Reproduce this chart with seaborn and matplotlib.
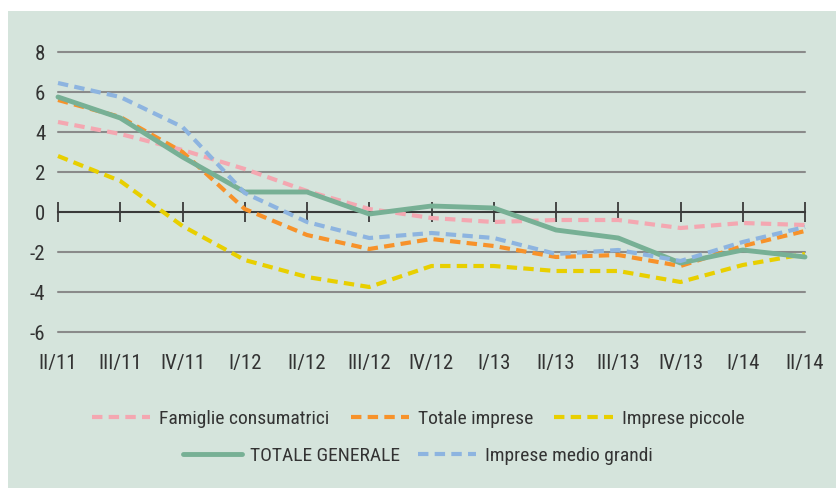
import matplotlib
matplotlib.use("Agg")
import matplotlib.pyplot as plt
import seaborn as sns
import pandas as pd
from matplotlib.patches import Rectangle
from matplotlib.lines import Line2D

quarters = ["II/11", "III/11", "IV/11", "I/12", "II/12", "III/12", "IV/12",
            "I/13", "II/13", "III/13", "IV/13", "I/14", "II/14"]
famiglie = [4.5, 3.9, 3.1, 2.15, 1.05, 0.15, -0.3, -0.5, -0.4, -0.4, -0.8, -0.55, -0.65]
totale_imprese = [5.6, 4.75, 3.0, 0.15, -1.15, -1.85, -1.35, -1.7, -2.25, -2.15, -2.7, -1.7, -0.95]
imprese_piccole = [2.8, 1.55, -0.7, -2.4, -3.25, -3.75, -2.7, -2.7, -2.95, -2.95, -3.5, -2.65, -2.1]
totale_generale = [5.75, 4.7, 2.75, 1.0, 1.0, -0.1, 0.3, 0.2, -0.9, -1.3, -2.55, -1.9, -2.25]
medio_grandi = [6.45, 5.75, 4.25, 0.95, -0.5, -1.3, -1.05, -1.3, -2.1, -1.9, -2.45, -1.5, -0.75]
y_ticks = [-6, -4, -2, 0, 2, 4, 6, 8]

series = [
    ("Famiglie consumatrici", famiglie, "#f4a7b1", True),
    ("Totale imprese", totale_imprese, "#f7922a", True),
    ("Imprese piccole", imprese_piccole, "#e8cf00", True),
    ("TOTALE GENERALE", totale_generale, "#77b095", False),
    ("Imprese medio grandi", medio_grandi, "#8db4e0", True),
]

sns.set_theme(style="white")
plt.rcParams["font.family"] = ["Roboto Condensed", "DejaVu Sans"]
FS = 15
LFS = 14
TXT = "#333333"

BG = "#d5e4dc"
fig = plt.figure(figsize=(8.36, 4.88), dpi=100, facecolor="white")
fig.patches.append(Rectangle((8 / 836, 0), 1, 1 - 11 / 488, transform=fig.transFigure,
                             facecolor=BG, edgecolor="none", zorder=-10))
ax = fig.add_axes([58 / 836, 1 - 332 / 488, (805 - 58) / 836, (332 - 52) / 488])
ax.set_facecolor(BG)
ax.patch.set_alpha(0)

x = list(range(len(quarters)))
handles = []
for name, vals, col, dashed in series:
    df = pd.DataFrame({"x": x, "y": vals})
    ls = (0, (2.5, 1.5)) if dashed else "-"
    lw = 3.0 if dashed else 3.5
    sns.lineplot(data=df, x="x", y="y", ax=ax, color=col, linewidth=lw,
                 linestyle=ls, legend=False, clip_on=False, zorder=3)
    handles.append(Line2D([0], [0], color=col, linewidth=lw, linestyle=ls, label=name))

ax.set_xlim(0, len(quarters) - 1)
ax.set_ylim(-6, 8)
ax.set_yticks(y_ticks)
ax.set_yticklabels([str(v) for v in y_ticks], fontsize=FS, color=TXT)
ax.set_xticks(x)
ax.set_xticklabels(quarters, fontsize=FS, color=TXT)
ax.tick_params(axis="x", length=0, pad=16)
ax.tick_params(axis="y", length=0, pad=9)
ax.set_xlabel("")
ax.set_ylabel("")
for s in ax.spines.values():
    s.set_visible(False)
for v in y_ticks:
    if v != 0:
        ax.axhline(v, color="#8a8a8a", linewidth=1.5, zorder=1, clip_on=False)

sec = ax.secondary_xaxis(6 / 14)
sec.set_xticks(x)
sec.set_xticklabels([""] * len(x))
sec.tick_params(axis="x", direction="inout", length=14, width=1.3, color="#3a3a3a")
sec.spines["bottom"].set_color("#3a3a3a")
sec.spines["bottom"].set_linewidth(1.5)
sec.spines["top"].set_visible(False)

leg1 = fig.legend(handles=handles[:3], loc="center", bbox_to_anchor=(0.5, 1 - 419 / 488),
                  ncol=3, frameon=False, fontsize=LFS, handlelength=3.0,
                  handletextpad=0.45, columnspacing=1.1, labelcolor=TXT)
leg2 = fig.legend(handles=handles[3:], loc="center", bbox_to_anchor=(0.5, 1 - 456 / 488),
                  ncol=2, frameon=False, fontsize=LFS, handlelength=3.0,
                  handletextpad=0.45, columnspacing=0.9, labelcolor=TXT)

fig.savefig("out.png", dpi=100, facecolor="white")
